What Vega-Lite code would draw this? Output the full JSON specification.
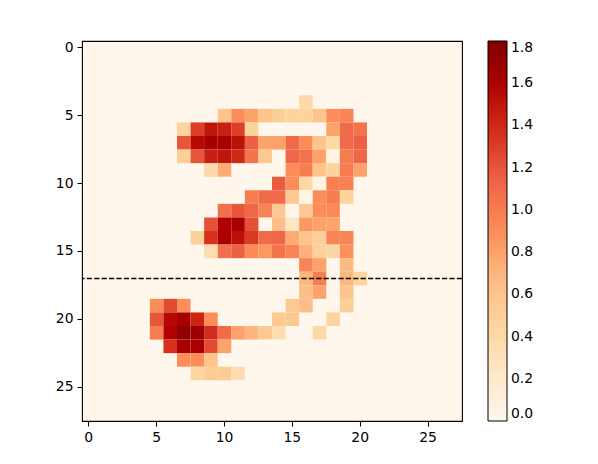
{"$schema":"https://vega.github.io/schema/vega-lite/v6.json","width":380,"height":380,"autosize":{"type":"none"},"padding":{"left":82,"top":41,"right":136,"bottom":43},"background":"white","view":{"fill":"#fff7ec","stroke":"black","strokeWidth":1.1},"config":{"font":"DejaVu Sans","axis":{"labelFont":"DejaVu Sans","labelFontSize":13.9,"labelColor":"black","tickColor":"black","tickSize":5,"tickWidth":1.1,"labelPadding":4,"domain":false,"grid":false,"title":null},"legend":{"labelFont":"DejaVu Sans","labelFontSize":13.9,"labelColor":"black"}},"datasets":{"cells":[
{"x":16,"y":4,"v":0.4},
{"x":10,"y":5,"v":0.6},{"x":11,"y":5,"v":0.9},{"x":12,"y":5,"v":0.8},{"x":13,"y":5,"v":0.6},{"x":14,"y":5,"v":0.5},{"x":15,"y":5,"v":0.45},{"x":16,"y":5,"v":0.45},{"x":17,"y":5,"v":0.6},{"x":18,"y":5,"v":0.9},{"x":19,"y":5,"v":0.95},
{"x":7,"y":6,"v":0.45},{"x":8,"y":6,"v":1.3},{"x":9,"y":6,"v":1.5},{"x":10,"y":6,"v":1.45},{"x":11,"y":6,"v":1.3},{"x":12,"y":6,"v":0.45},{"x":18,"y":6,"v":0.8},{"x":19,"y":6,"v":1.1},{"x":20,"y":6,"v":1.05},
{"x":7,"y":7,"v":1.2},{"x":8,"y":7,"v":1.55},{"x":9,"y":7,"v":1.62},{"x":10,"y":7,"v":1.62},{"x":11,"y":7,"v":1.52},{"x":12,"y":7,"v":1.15},{"x":13,"y":7,"v":0.8},{"x":14,"y":7,"v":0.8},{"x":15,"y":7,"v":1.1},{"x":16,"y":7,"v":0.9},{"x":17,"y":7,"v":0.6},{"x":18,"y":7,"v":0.4},{"x":19,"y":7,"v":1.1},{"x":20,"y":7,"v":1.15},
{"x":7,"y":8,"v":0.5},{"x":8,"y":8,"v":1.2},{"x":9,"y":8,"v":1.45},{"x":10,"y":8,"v":1.5},{"x":11,"y":8,"v":1.4},{"x":12,"y":8,"v":1.05},{"x":13,"y":8,"v":0.55},{"x":15,"y":8,"v":1.12},{"x":16,"y":8,"v":1.05},{"x":17,"y":8,"v":0.8},{"x":18,"y":8,"v":0.05},{"x":19,"y":8,"v":1.0},{"x":20,"y":8,"v":1.12},
{"x":9,"y":9,"v":0.4},{"x":10,"y":9,"v":0.75},{"x":15,"y":9,"v":0.9},{"x":16,"y":9,"v":1.0},{"x":17,"y":9,"v":0.6},{"x":18,"y":9,"v":0.45},{"x":19,"y":9,"v":1.0},{"x":20,"y":9,"v":0.8},
{"x":14,"y":10,"v":1.17},{"x":15,"y":10,"v":0.9},{"x":16,"y":10,"v":0.4},{"x":17,"y":10,"v":0.05},{"x":18,"y":10,"v":0.97},{"x":19,"y":10,"v":0.97},
{"x":12,"y":11,"v":1.0},{"x":13,"y":11,"v":1.1},{"x":14,"y":11,"v":1.1},{"x":15,"y":11,"v":0.55},{"x":16,"y":11,"v":0.03},{"x":17,"y":11,"v":0.9},{"x":18,"y":11,"v":1.0},{"x":19,"y":11,"v":0.45},
{"x":10,"y":12,"v":1.07},{"x":11,"y":12,"v":1.2},{"x":12,"y":12,"v":1.12},{"x":13,"y":12,"v":0.95},{"x":14,"y":12,"v":0.55},{"x":15,"y":12,"v":0.02},{"x":16,"y":12,"v":0.55},{"x":17,"y":12,"v":0.9},{"x":18,"y":12,"v":0.92},
{"x":9,"y":13,"v":1.22},{"x":10,"y":13,"v":1.58},{"x":11,"y":13,"v":1.62},{"x":12,"y":13,"v":1.22},{"x":14,"y":13,"v":0.65},{"x":15,"y":13,"v":0.25},{"x":16,"y":13,"v":0.85},{"x":17,"y":13,"v":0.8},{"x":18,"y":13,"v":0.8},
{"x":8,"y":14,"v":0.48},{"x":9,"y":14,"v":1.35},{"x":10,"y":14,"v":1.6},{"x":11,"y":14,"v":1.52},{"x":12,"y":14,"v":1.32},{"x":13,"y":14,"v":1.1},{"x":14,"y":14,"v":1.12},{"x":15,"y":14,"v":0.75},{"x":16,"y":14,"v":0.6},{"x":17,"y":14,"v":0.5},{"x":18,"y":14,"v":0.95},{"x":19,"y":14,"v":0.95},
{"x":9,"y":15,"v":0.35},{"x":10,"y":15,"v":1.07},{"x":11,"y":15,"v":1.15},{"x":12,"y":15,"v":0.92},{"x":13,"y":15,"v":0.85},{"x":14,"y":15,"v":1.05},{"x":15,"y":15,"v":0.95},{"x":16,"y":15,"v":0.72},{"x":17,"y":15,"v":0.48},{"x":18,"y":15,"v":0.42},{"x":19,"y":15,"v":0.88},
{"x":16,"y":16,"v":0.95},{"x":17,"y":16,"v":0.8},{"x":19,"y":16,"v":0.68},
{"x":16,"y":17,"v":0.7},{"x":17,"y":17,"v":1.0},{"x":19,"y":17,"v":0.7},{"x":20,"y":17,"v":0.45},
{"x":16,"y":18,"v":0.65},{"x":17,"y":18,"v":0.8},{"x":19,"y":18,"v":0.6},
{"x":5,"y":19,"v":0.9},{"x":6,"y":19,"v":1.25},{"x":7,"y":19,"v":0.9},{"x":15,"y":19,"v":0.55},{"x":16,"y":19,"v":0.65},{"x":19,"y":19,"v":0.5},
{"x":5,"y":20,"v":1.2},{"x":6,"y":20,"v":1.55},{"x":7,"y":20,"v":1.63},{"x":8,"y":20,"v":1.42},{"x":9,"y":20,"v":0.9},{"x":14,"y":20,"v":0.55},{"x":15,"y":20,"v":0.55},{"x":18,"y":20,"v":0.45},
{"x":5,"y":21,"v":1.0},{"x":6,"y":21,"v":1.58},{"x":7,"y":21,"v":1.72},{"x":8,"y":21,"v":1.65},{"x":9,"y":21,"v":1.38},{"x":10,"y":21,"v":1.1},{"x":11,"y":21,"v":0.8},{"x":12,"y":21,"v":0.7},{"x":13,"y":21,"v":0.55},{"x":14,"y":21,"v":0.35},{"x":17,"y":21,"v":0.4},
{"x":6,"y":22,"v":1.35},{"x":7,"y":22,"v":1.62},{"x":8,"y":22,"v":1.6},{"x":9,"y":22,"v":1.25},{"x":10,"y":22,"v":0.8},
{"x":7,"y":23,"v":0.9},{"x":8,"y":23,"v":0.9},{"x":9,"y":23,"v":0.6},
{"x":8,"y":24,"v":0.42},{"x":9,"y":24,"v":0.52},{"x":10,"y":24,"v":0.52},{"x":11,"y":24,"v":0.35}
],"line":[{"y":17}]},
"layer":[
{"data":{"name":"cells"},"mark":{"type":"rect","clip":true},"encoding":{
"x":{"field":"x","type":"ordinal","scale":{"domain":[0,1,2,3,4,5,6,7,8,9,10,11,12,13,14,15,16,17,18,19,20,21,22,23,24,25,26,27],"paddingInner":0,"paddingOuter":0},"axis":{"values":[0,5,10,15,20,25],"labelAngle":0}},
"y":{"field":"y","type":"ordinal","scale":{"domain":[0,1,2,3,4,5,6,7,8,9,10,11,12,13,14,15,16,17,18,19,20,21,22,23,24,25,26,27],"paddingInner":0,"paddingOuter":0},"axis":{"values":[0,5,10,15,20,25]}},
"color":{"field":"v","type":"quantitative","scale":{"domain":[0,1.8],"range":["#fff7ec","#fee8c8","#fdd49e","#fdbb84","#fc8d59","#ef6548","#d7301f","#b30000","#7f0000"]},"legend":{"orient":"none","legendX":406,"legendY":0,"title":null,"type":"gradient","direction":"vertical","gradientLength":380,"gradientThickness":19,"gradientStrokeColor":"black","gradientStrokeWidth":1,"values":[0,0.2,0.4,0.6,0.8,1,1.2,1.4,1.6,1.8],"format":".1f","labelOffset":4,"labelOverlap":false}}}},
{"data":{"name":"line"},"mark":{"type":"rule","color":"black","strokeWidth":1.4,"strokeDash":[5.2,2.2]},"encoding":{"y":{"field":"y","type":"ordinal"}}}
]}
